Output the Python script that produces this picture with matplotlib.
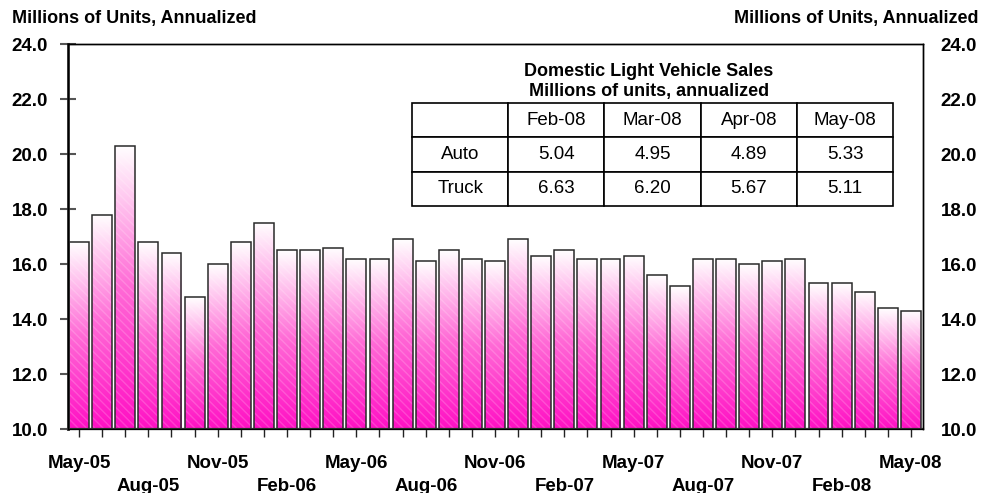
import numpy as np
import matplotlib.pyplot as plt
from matplotlib.colors import LinearSegmentedColormap

plt.rcParams['font.family'] = ['Liberation Sans', 'DejaVu Sans']

# monthly sales, May-05 .. May-08 (millions of units, annualized)
sales = [16.8, 17.8, 20.3, 16.8, 16.4, 14.8, 16.0, 16.8, 17.5, 16.5, 16.5, 16.6, 16.2,
         16.2, 16.9, 16.1, 16.5, 16.2, 16.1, 16.9, 16.3, 16.5, 16.2, 16.2, 16.3, 15.6,
         15.2, 16.2, 16.2, 16.0, 16.1, 16.2, 15.3, 15.3, 15.0, 14.4, 14.3]
quarter_labels = ['May-05', 'Aug-05', 'Nov-05', 'Feb-06', 'May-06', 'Aug-06', 'Nov-06',
                  'Feb-07', 'May-07', 'Aug-07', 'Nov-07', 'Feb-08', 'May-08']
y_ticks = [10, 12, 14, 16, 18, 20, 22, 24]

# small table
table_cols = ['Feb-08', 'Mar-08', 'Apr-08', 'May-08']
auto = ['5.04', '4.95', '4.89', '5.33']
truck = ['6.63', '6.20', '5.67', '5.11']

base = 10
fig = plt.figure(figsize=(9.84, 4.93), dpi=100)
ax = fig.add_axes([0.0686, 0.1298, 0.8689, 0.7803])

x = np.arange(len(sales))
heights = [v - base for v in sales]

# gradient fill, one per bar
cmap = LinearSegmentedColormap.from_list('pink', ['#ff10c4', '#ff6ad6', '#ffffff'])
grad = np.linspace(0, 1, 256).reshape(-1, 1)
bars = ax.bar(x, heights, bottom=base, width=0.86, color='none',
              edgecolor='#2a2a2a', linewidth=1.1, zorder=3)
for b in bars:
    x0, y0 = b.get_x(), b.get_y()
    im = ax.imshow(grad, extent=(x0, x0 + b.get_width(), y0, y0 + b.get_height()),
                   origin='lower', cmap=cmap, aspect='auto', zorder=2)
    im.set_clip_path(b)
# faint diagonal texture
ax.bar(x, heights, bottom=base, width=0.86, color='none', edgecolor=(1, 1, 1, 0.18),
       linewidth=0, hatch='\\\\\\\\', zorder=2.5)

ax.set_xlim(-0.5, len(sales) - 0.5)
ax.set_ylim(10, 24)
ax.set_aspect('auto')

# x labels every 3 months, alternating rows
labels = []
for i in x:
    if i % 3 == 0:
        k = i // 3
        labels.append(quarter_labels[k] if k % 2 == 0 else '\n' + quarter_labels[k])
    else:
        labels.append('')
ax.set_xticks(x)
ax.set_xticklabels(labels, fontsize=13.5, fontweight='bold', linespacing=1.45)
ax.tick_params(axis='x', direction='inout', length=11, width=1, color='#222', pad=13)

ax.set_yticks(y_ticks)
ax.set_yticklabels([f'{v:.1f}' for v in y_ticks], fontsize=13.5, fontweight='bold')
ax.tick_params(axis='y', direction='inout', length=12, width=1.5, color='#555', pad=8)

ax2 = ax.twinx()
ax2.set_ylim(10, 24)
ax2.set_yticks(y_ticks)
ax2.set_yticklabels([f'{v:.1f}' for v in y_ticks], fontsize=13.5, fontweight='bold')
ax2.tick_params(axis='y', length=0, pad=13)

ax.spines['left'].set_linewidth(2)
ax.spines['left'].set_color('#222')
ax.spines['bottom'].set_linewidth(1.6)
ax.spines['bottom'].set_color('#333')
for s in ['top', 'right']:
    ax.spines[s].set_linewidth(1)
    ax2.spines[s].set_linewidth(1)

fig.text(12 / 984, 1 - 18 / 493, 'Millions of Units, Annualized', fontsize=13,
         fontweight='bold', va='center', ha='left')
fig.text(978 / 984, 1 - 18 / 493, 'Millions of Units, Annualized', fontsize=13,
         fontweight='bold', va='center', ha='right')

# inset table
cells = [[''] + table_cols, ['Auto'] + auto, ['Truck'] + truck]
tbl = ax2.table(cellText=cells, cellLoc='center', bbox=[0.403, 0.5797, 0.5626, 0.2677])
tbl.auto_set_font_size(False)
tbl.set_fontsize(13.5)
for cell in tbl.get_celld().values():
    cell.set_linewidth(1.2)
    cell.set_edgecolor('black')
    cell.set_facecolor('white')
ax2.text(0.68, 0.9306, 'Domestic Light Vehicle Sales', transform=ax.transAxes,
         ha='center', va='center', fontsize=13, fontweight='bold')
ax2.text(0.68, 0.8786, 'Millions of units, annualized', transform=ax.transAxes,
         ha='center', va='center', fontsize=13, fontweight='bold')

fig.savefig('out.png', dpi=100)
